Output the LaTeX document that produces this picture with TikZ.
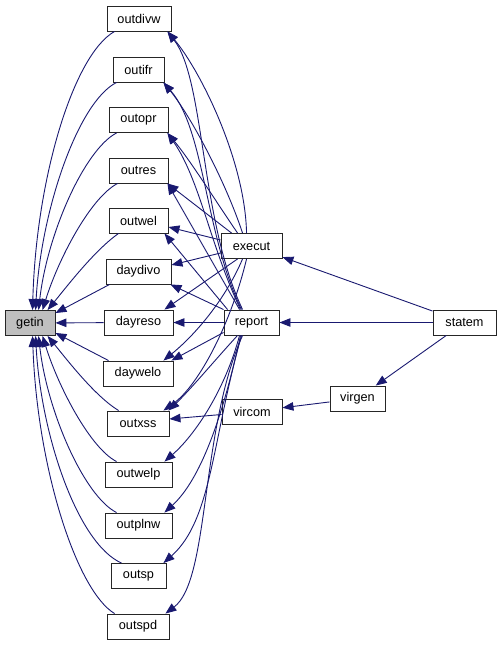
\documentclass[tikz,border=0pt]{standalone}
\usepackage{fontspec}
\setmainfont{Liberation Sans}
\usetikzlibrary{arrows.meta}
\definecolor{edgeblue}{HTML}{191970}
\definecolor{hlgray}{HTML}{BFBFBF}
\tikzset{
  fn/.style={draw=black!85, line width=0.9pt, fill=white, minimum height=25pt, inner sep=0pt,
    font=\fontsize{12.7}{14}\selectfont, text=black},
  edge/.style={draw=edgeblue, line width=0.9pt, -{Triangle[length=11pt,width=8.5pt]}}
}
\begin{document}
\begin{tikzpicture}[x=1pt,y=-1pt]
\useasboundingbox (0,0) rectangle (501,645);
% nodes
\node[fn, fill=hlgray, minimum width=50pt] (getin) at (30,323) {getin};
\node[fn, minimum width=64pt] (outdivw) at (139,18.5) {outdivw};
\node[fn, minimum width=51pt] (outifr) at (138.5,69.5) {outifr};
\node[fn, minimum width=59pt] (outopr) at (138.5,120) {outopr};
\node[fn, minimum width=59pt] (outres) at (138.5,170.5) {outres};
\node[fn, minimum width=59pt] (outwel) at (138.5,220.5) {outwel};
\node[fn, minimum width=65pt] (daydivo) at (138.5,271.5) {daydivo};
\node[fn, minimum width=69pt] (dayreso) at (138.5,322.5) {dayreso};
\node[fn, minimum width=70pt] (daywelo) at (138,373.5) {daywelo};
\node[fn, minimum width=62pt] (outxss) at (138,423.5) {outxss};
\node[fn, minimum width=67pt] (outwelp) at (138.5,474.5) {outwelp};
\node[fn, minimum width=67pt] (outplnw) at (138.5,525.5) {outplnw};
\node[fn, minimum width=55pt] (outsp) at (138.5,576) {outsp};
\node[fn, minimum width=62pt] (outspd) at (138,626.5) {outspd};
\node[fn, minimum width=61pt] (execut) at (251.5,246) {execut};
\node[fn, minimum width=55pt] (report) at (251.5,322.5) {report};
\node[fn, minimum width=60pt] (vircom) at (252,411.5) {vircom};
\node[fn, minimum width=55pt] (virgen) at (357.5,398.5) {virgen};
\node[fn, minimum width=63pt] (statem) at (464.5,322.5) {statem};

% edges into getin
\draw[edge] ([xshift=8pt]outdivw.south west) .. controls (73,55) and (36,180) .. ([xshift=28pt]getin.north west);
\draw[edge] ([xshift=4pt]outifr.south west) .. controls (78,102) and (41,210) .. ([xshift=31pt]getin.north west);
\draw[edge] ([xshift=8pt]outopr.south west) .. controls (84,150) and (47,235) .. ([xshift=34pt]getin.north west);
\draw[edge] ([xshift=9pt]outres.south west) .. controls (90,198) and (58,260) .. ([xshift=38pt]getin.north west);
\draw[edge] ([xshift=10pt]outwel.south west) .. controls (95,250) and (68,285) .. ([xshift=43pt]getin.north west);
\draw[edge] ([xshift=4pt]daydivo.south west) -- ([yshift=-3pt]getin.north east);
\draw[edge] (dayreso) -- (getin);
\draw[edge] ([xshift=6pt]daywelo.north west) -- ([yshift=3pt]getin.south east);
\draw[edge] ([xshift=12pt]outxss.north west) .. controls (95,396) and (68,361) .. ([xshift=43pt]getin.south west);
\draw[edge] ([xshift=12pt]outwelp.north west) .. controls (90,448) and (58,386) .. ([xshift=38pt]getin.south west);
\draw[edge] ([xshift=12pt]outplnw.north west) .. controls (84,496) and (47,411) .. ([xshift=34pt]getin.south west);
\draw[edge] ([xshift=11pt]outsp.north west) .. controls (78,544) and (41,436) .. ([xshift=31pt]getin.south west);
\draw[edge] ([xshift=8pt]outspd.north west) .. controls (76,590) and (37,466) .. ([xshift=28pt]getin.south west);

% execut edges
\draw[edge] ([xshift=26pt]execut.north west) .. controls (245,160) and (200,70) .. ([xshift=-4pt]outdivw.south east);
\draw[edge] ([xshift=22pt]execut.north west) .. controls (225,180) and (190,115) .. ([xshift=-1pt]outifr.south east);
\draw[edge] ([xshift=17pt]execut.north west) .. controls (215,200) and (190,160) .. ([xshift=-1pt]outopr.south east);
\draw[edge] ([xshift=11pt]execut.north west) -- ([xshift=-1pt]outres.south east);
\draw[edge] ([yshift=6pt]execut.west) -- ([yshift=-6.5pt]outwel.east);
\draw[edge] ([yshift=-7pt]execut.west) -- ([yshift=6.5pt]daydivo.east);
\draw[edge] ([xshift=17pt]execut.south west) -- ([xshift=-9pt]dayreso.north east);
\draw[edge] ([xshift=22pt]execut.south west) .. controls (225,300) and (195,335) .. ([xshift=-10pt]daywelo.north east);
\draw[edge] ([xshift=26pt]execut.south west) .. controls (232,320) and (200,385) .. ([xshift=-6pt]outxss.north east);

% report edges
\draw[edge] ([xshift=19pt]report.north west) .. controls (200,220) and (205,80) .. ([xshift=-4pt]outdivw.south east);
\draw[edge] ([xshift=18pt]report.north west) .. controls (205,235) and (205,130) .. ([xshift=-1pt]outifr.south east);
\draw[edge] ([xshift=17pt]report.north west) .. controls (210,245) and (200,180) .. ([xshift=-1pt]outopr.south east);
\draw[edge] ([xshift=16pt]report.north west) -- ([xshift=-1pt]outres.south east);
\draw[edge] ([xshift=4pt]report.north west) -- ([xshift=-4pt]outwel.south east);
\draw[edge] (report.north west) -- ([xshift=-1pt]daydivo.south east);
\draw[edge] (report) -- (dayreso);
\draw[edge] ([yshift=3pt]report.south west) -- ([xshift=-2pt]daywelo.north east);
\draw[edge] ([xshift=14pt]report.south west) .. controls (215,360) and (190,390) .. ([xshift=-1pt]outxss.north east);
\draw[edge] ([xshift=16pt]report.south west) .. controls (225,390) and (195,435) .. ([xshift=-8pt]outwelp.north east);
\draw[edge] ([xshift=17pt]report.south west) .. controls (222,420) and (200,480) .. ([xshift=-8pt]outplnw.north east);
\draw[edge] ([xshift=18pt]report.south west) .. controls (212,440) and (212,520) .. ([xshift=-3pt]outsp.north east);
\draw[edge] ([xshift=19pt]report.south west) .. controls (200,430) and (210,580) .. ([xshift=-4pt]outspd.north east);

% other edges
\draw[edge] ([yshift=-3pt]vircom.west) -- ([yshift=4.5pt]outxss.east);
\draw[edge] (virgen) -- (vircom);
\draw[edge] (statem) -- (execut);
\draw[edge] (statem) -- (report);
\draw[edge] (statem) -- (virgen);
\end{tikzpicture}
\end{document}
